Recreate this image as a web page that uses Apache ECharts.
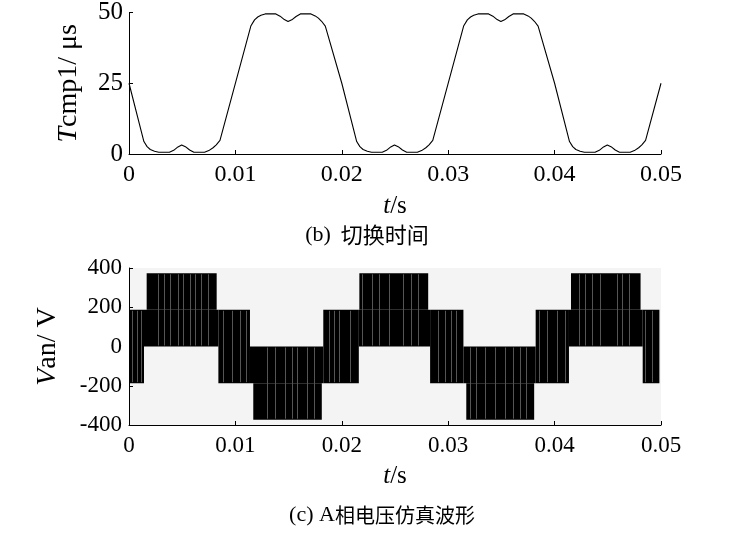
<!DOCTYPE html>
<html>
<head>
<meta charset="utf-8">
<script src="https://cdn.jsdelivr.net/npm/echarts@6/dist/echarts.min.js"></script>
<style>html,body{margin:0;padding:0;background:#fff}#c{width:739px;height:559px}</style>
</head>
<body>
<div id="c"></div>
<script>
// ---- Data ----
// (b) switching time Tcmp1 (µs) versus t (s)
var tcmpT = [
  0.0000, 0.00140, 0.00170, 0.00200, 0.00240, 0.00280, 0.00380, 0.00420, 0.00460, 0.00495, 0.00530, 0.00570, 0.00610, 0.00710, 0.00750, 0.00790, 0.00820, 0.00855,
  0.01145, 0.01180, 0.01210, 0.01240, 0.01280, 0.01380, 0.01420, 0.01460, 0.01495, 0.01530, 0.01570, 0.01610, 0.01710, 0.01750, 0.01780, 0.01810, 0.01845,
  0.02000, 0.02140, 0.02170, 0.02200, 0.02240, 0.02280, 0.02380, 0.02420, 0.02460, 0.02495, 0.02530, 0.02570, 0.02610, 0.02710, 0.02750, 0.02790, 0.02820, 0.02855,
  0.03145, 0.03180, 0.03210, 0.03240, 0.03280, 0.03380, 0.03420, 0.03460, 0.03495, 0.03530, 0.03570, 0.03610, 0.03710, 0.03750, 0.03780, 0.03810, 0.03845,
  0.04000, 0.04140, 0.04170, 0.04200, 0.04240, 0.04280, 0.04380, 0.04420, 0.04460, 0.04495, 0.04530, 0.04570, 0.04610, 0.04710, 0.04750, 0.04790, 0.04820, 0.04855,
  0.05000
];
var tcmpV = [
  25.0, 4.4, 2.6, 1.6, 1.0, 0.6, 0.6, 1.3, 2.5, 3.2, 2.6, 1.4, 0.6, 0.6, 1.2, 2.2, 3.2, 4.8,
  45.2, 47.4, 48.4, 49.0, 49.5, 49.5, 48.7, 47.5, 46.8, 47.4, 48.6, 49.5, 49.5, 48.8, 48.0, 46.9, 45.2,
  25.0, 4.4, 2.6, 1.6, 1.0, 0.6, 0.6, 1.3, 2.5, 3.2, 2.6, 1.4, 0.6, 0.6, 1.2, 2.2, 3.2, 4.8,
  45.2, 47.4, 48.4, 49.0, 49.5, 49.5, 48.7, 47.5, 46.8, 47.4, 48.6, 49.5, 49.5, 48.8, 48.0, 46.9, 45.2,
  25.0, 4.4, 2.6, 1.6, 1.0, 0.6, 0.6, 1.3, 2.5, 3.2, 2.6, 1.4, 0.6, 0.6, 1.2, 2.2, 3.2, 4.8,
  25.0
];

// (c) phase-A voltage Van (V): PWM switching bands (time span and voltage levels)
var bandStart = [0.0000, 0.00141, 0.00166, 0.00840, 0.01137, 0.01168, 0.01826, 0.02160, 0.02165, 0.02830, 0.03143, 0.03170, 0.03822, 0.04135, 0.04154, 0.04828];
var bandEnd   = [0.00141, 0.00840, 0.00824, 0.01137, 0.01826, 0.01812, 0.02160, 0.02830, 0.02812, 0.03143, 0.03822, 0.03808, 0.04135, 0.04828, 0.04808, 0.04985];
var bandLow   = [-187, 0, 187, -187, -187, -373, -187, 0, 187, -187, -187, -373, -187, 0, 187, -187];
var bandHigh  = [187, 187, 373, 187, 0, -187, 187, 187, 373, 187, 0, -187, 187, 187, 373, 187];
// light streaks inside the switching bands
var streakT = [
  0.00031, 0.00072, 0.00113, 0.00276, 0.00332, 0.00385, 0.00464, 0.00511, 0.00573, 0.00620, 0.00677, 0.00746, 0.00887, 0.00965, 0.01043, 0.01096,
  0.01297, 0.01375, 0.01469, 0.01532, 0.01579, 0.01673, 0.01736, 0.01877, 0.01924, 0.01971, 0.02080, 0.02190, 0.02284, 0.02347, 0.02441,
  0.02575, 0.02653, 0.02716, 0.02904, 0.02967, 0.03029, 0.03076, 0.03202, 0.03264, 0.03343, 0.03437, 0.03531, 0.03609, 0.03672, 0.03734,
  0.03850, 0.03929, 0.04023, 0.04100, 0.04226, 0.04289, 0.04350, 0.04430, 0.04586, 0.04633, 0.04696, 0.04852, 0.04915
];

// axis tick labels
var xTickLabels = ['0', '0.01', '0.02', '0.03', '0.04', '0.05'];
var yTickLabelsB = ['0', '25', '50'];
var yTickLabelsC = ['-400', '-200', '0', '200', '400'];

// ---- Build chart ----
var serif = "'Liberation Serif', 'Times New Roman', 'DejaVu Serif', serif";
var cjkFont = "'Noto Sans CJK SC', sans-serif";

var lineData = tcmpT.map(function (t, i) { return [t, tcmpV[i]]; });
var bandData = bandStart.map(function (s, i) { return [s, bandEnd[i], bandLow[i], bandHigh[i]]; });
var streakData = [];
streakT.forEach(function (t) {
  var lo = null, hi = null;
  for (var i = 0; i < bandStart.length; i++) {
    if (t >= bandStart[i] && t <= bandEnd[i]) {
      lo = lo === null ? bandLow[i] : Math.min(lo, bandLow[i]);
      hi = hi === null ? bandHigh[i] : Math.max(hi, bandHigh[i]);
    }
  }
  if (lo !== null) streakData.push([t, lo, hi]);
});

function xLabel(v) {
  var i = Math.round(v / 0.01);
  return xTickLabels[i] !== undefined ? xTickLabels[i] : '';
}

function xAxisCfg(gridIndex, fs, gap) {
  return {
    type: 'value', gridIndex: gridIndex, min: 0, max: 0.05, interval: 0.01,
    axisLine: { show: true, onZero: false, lineStyle: { color: '#000', width: 1 } },
    axisTick: { show: true, inside: true, length: 4, lineStyle: { color: '#000' } },
    splitLine: { show: false },
    axisLabel: { color: '#000', fontFamily: serif, fontSize: fs, margin: 9, formatter: xLabel },
    name: '{i|t}/s', nameLocation: 'middle', nameGap: gap,
    nameTextStyle: { color: '#000', fontFamily: serif, fontSize: 25,
      rich: { i: { fontStyle: 'italic', fontFamily: serif, fontSize: 25, color: '#000' } } }
  };
}

var option = {
  animation: false,
  backgroundColor: '#fff',
  grid: [
    { left: 129, top: 10, width: 532, height: 144, containLabel: false },
    { left: 129, top: 268, width: 532, height: 157, containLabel: false,
      show: true, backgroundColor: '#f4f4f4', borderWidth: 0 }
  ],
  xAxis: [xAxisCfg(0, 24, 40), xAxisCfg(1, 23, 39)],
  yAxis: [
    {
      type: 'value', gridIndex: 0, min: 0, max: 50, interval: 25,
      axisLine: { show: true, onZero: false, lineStyle: { color: '#000', width: 1 } },
      axisTick: { show: true, inside: true, length: 4, lineStyle: { color: '#000' } },
      splitLine: { show: false },
      axisLabel: { color: '#000', fontFamily: serif, fontSize: 25, margin: 6,
        formatter: function (v) { return yTickLabelsB[Math.round(v / 25)]; } },
      name: '{i|T}cmp1/ μs', nameLocation: 'middle', nameGap: 46,
      nameTextStyle: { color: '#000', fontFamily: serif, fontSize: 28,
        rich: { i: { fontStyle: 'italic', fontFamily: serif, fontSize: 28, color: '#000' } } }
    },
    {
      type: 'value', gridIndex: 1, min: -400, max: 400, interval: 200,
      axisLine: { show: true, onZero: false, lineStyle: { color: '#000', width: 1 } },
      axisTick: { show: true, inside: true, length: 4, lineStyle: { color: '#000' } },
      splitLine: { show: false },
      axisLabel: { color: '#000', fontFamily: serif, fontSize: 23, margin: 7,
        formatter: function (v) { return yTickLabelsC[Math.round((v + 400) / 200)]; } },
      name: '{i|V}an/ V', nameLocation: 'middle', nameGap: 67,
      nameTextStyle: { color: '#000', fontFamily: serif, fontSize: 28,
        rich: { i: { fontStyle: 'italic', fontFamily: serif, fontSize: 28, color: '#000' } } }
    }
  ],
  series: [
    {
      type: 'line', xAxisIndex: 0, yAxisIndex: 0, data: lineData,
      showSymbol: false, symbol: 'none',
      lineStyle: { color: '#000', width: 1.1 }
    },
    {
      type: 'custom', xAxisIndex: 1, yAxisIndex: 1, data: bandData,
      encode: { x: [0, 1], y: [2, 3] },
      renderItem: function (params, api) {
        var p0 = api.coord([api.value(0), api.value(3)]);
        var p1 = api.coord([api.value(1), api.value(2)]);
        return { type: 'rect', shape: { x: p0[0], y: p0[1], width: p1[0] - p0[0], height: p1[1] - p0[1] },
          style: { fill: '#000' } };
      }
    },
    {
      type: 'custom', xAxisIndex: 1, yAxisIndex: 1, data: streakData,
      encode: { x: 0, y: [1, 2] }, z: 3,
      renderItem: function (params, api) {
        var p0 = api.coord([api.value(0), api.value(2)]);
        var p1 = api.coord([api.value(0), api.value(1)]);
        var x = Math.round(p0[0]) + 0.5;
        return { type: 'line', shape: { x1: x, y1: p0[1] + 1, x2: x, y2: p1[1] - 1 },
          style: { stroke: '#555555', lineWidth: 1 } };
      }
    }
  ],
  graphic: [
    { type: 'text', x: 367, y: 235,
      style: { text: '{a|(b)}   {b|切换时间}', align: 'center', verticalAlign: 'middle',
        rich: { a: { fontFamily: serif, fontSize: 22, fill: '#000', color: '#000' },
                b: { fontFamily: cjkFont, fontSize: 22, fill: '#000', color: '#000' } } } },
    { type: 'text', x: 382, y: 515,
      style: { text: '{a|(c) A}{b|相电压仿真波形}', align: 'center', verticalAlign: 'middle',
        rich: { a: { fontFamily: serif, fontSize: 22, fill: '#000', color: '#000' },
                b: { fontFamily: cjkFont, fontSize: 20, fill: '#000', color: '#000' } } } }
  ]
};

var chart = echarts.init(document.getElementById('c'), null, { renderer: 'canvas' });
chart.setOption(option);
</script>
</body>
</html>
